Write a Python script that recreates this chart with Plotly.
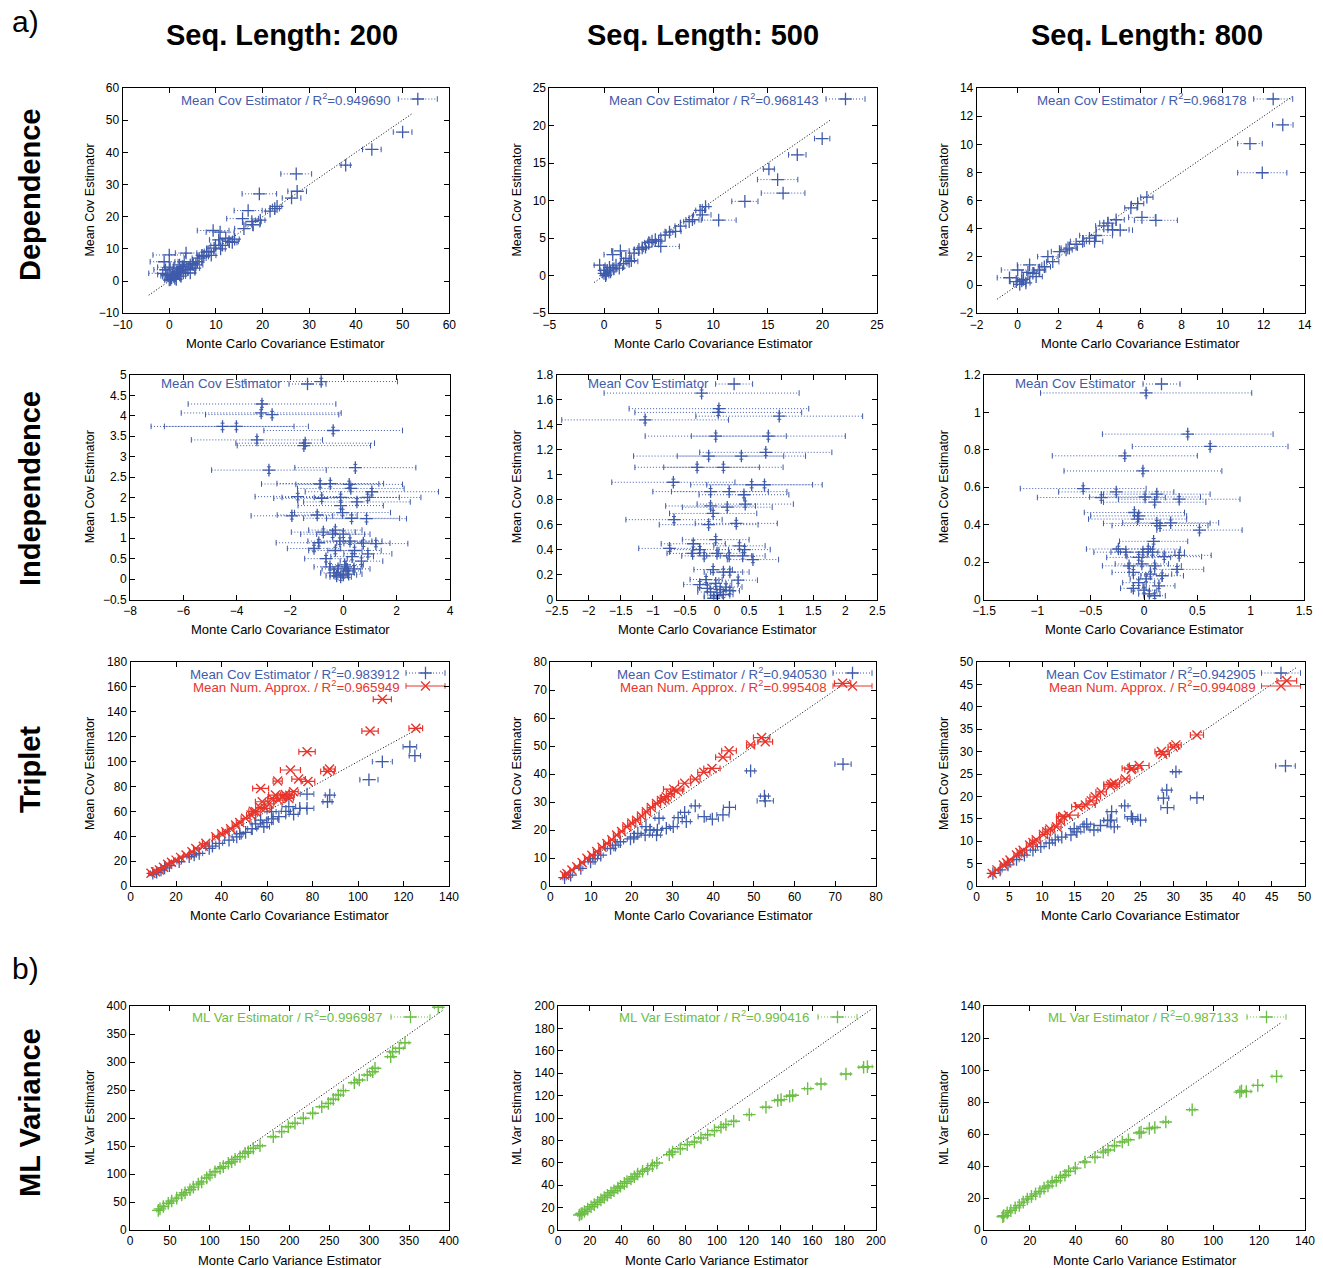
import plotly.graph_objects as go

W, H = 1323, 1268
FONT = "Liberation Sans, Arial, Helvetica, sans-serif"
BLUE = "#3F5BAB"
RED = "#E8352C"
GREEN = "#6CBE45"
DOT = "1px,2px"

# ---------------- data ----------------
# Dependence, seq length 200
d200_x = [50.0, 43.4, 37.8, 27.2, 27.4, 26.2, 19.3, 16.9, 22.6, 21.6, 23.1, 15.7, 17.7, 19.5, 17.9, 16.0, 9.4, 10.9, 12.8, 10.6,
          11.4, 9.6, 12.1, 9.9, 8.5, 7.4, 3.6, 0.0, -1.1, -1.4, 0.0, 2.8, 5.0, 6.4, 0.7, 0.0, -0.3, 1.8, 3.6, 5.7,
          0.5, 1.0, 1.5, 2.0, 2.5, 1.2, 0.3, -0.5, 3.0, 4.0, 4.5, 3.2, 2.2, 1.0, -0.8, 6.0, 7.0, 8.0, 13.5, 14.0,
          11.0, 9.0, 2.5, 1.5, 4.5, 5.5]
d200_y = [46.3, 40.9, 36.0, 33.3, 27.9, 25.8, 27.1, 21.9, 22.5, 21.7, 23.2, 19.4, 18.5, 18.9, 17.5, 16.3, 15.7, 15.2, 12.3, 12.8,
          11.1, 10.2, 13.3, 11.1, 9.2, 7.6, 8.7, 8.1, 6.0, 2.4, 4.3, 4.5, 5.5, 7.1, 1.9, 0.3, 1.6, 2.9, 4.0, 5.0,
          1.0, 1.5, 2.2, 2.8, 3.5, 0.8, 0.5, 2.0, 2.5, 3.5, 5.0, 6.0, 5.0, 4.0, 3.5, 6.0, 8.0, 9.0, 12.0, 13.0,
          10.0, 8.0, 1.5, 0.5, 2.5, 4.0]
d200_e = [2.0, 2.0, 1.0, 3.3, 2.0, 2.0, 3.7, 3.0, 1.0, 1.0, 1.0, 3.4, 2.0, 1.0, 1.5, 2.0, 3.4, 3.0, 2.0, 2.0,
          1.5, 1.5, 1.5, 1.0, 1.0, 1.0, 2.3, 3.5, 3.0, 3.0, 2.5, 2.0, 2.0, 1.5, 1.5, 1.0, 1.5, 1.5, 1.5, 1.5,
          1.0, 1.0, 1.0, 1.0, 1.0, 1.0, 1.0, 2.0, 1.0, 1.5, 1.5, 2.0, 2.0, 2.0, 2.5, 1.0, 1.0, 1.0, 1.0, 1.0,
          1.0, 1.0, 1.0, 1.0, 1.0, 1.0]

# Dependence, seq length 500
d500_x = [19.98, 17.7, 15.1, 15.9, 16.4, 12.9, 10.5, 9.3, 8.8, 9.0, 8.1, 7.8, 7.0, 6.55, 5.2, 4.7, 4.1, 3.5, 2.3, 1.5,
          0.8, -0.4, 0.0, 0.3, 1.1, 2.0, 2.75, 3.2, 4.4, 5.6, 0.5, 0.0, 0.15, 0.6, 1.4, 1.8, 2.5, 3.8, 5.0, 6.0, 0.2, 0.9]
d500_y = [18.26, 16.1, 14.2, 12.8, 11.0, 9.9, 7.4, 9.2, 8.7, 8.1, 7.45, 7.2, 6.6, 5.9, 3.9, 4.8, 4.4, 3.7, 1.9, 3.3,
          2.8, 1.4, 0.3, 0.7, 1.4, 2.3, 3.0, 3.5, 4.6, 5.4, 1.1, 0.7, 0.0, 0.5, 1.0, 1.6, 2.0, 3.8, 4.6, 5.8, 0.2, 0.9]
d500_e = [0.7, 0.8, 0.5, 1.85, 2.0, 1.2, 1.6, 0.3, 0.4, 0.8, 0.6, 0.5, 0.5, 0.5, 1.7, 0.5, 0.4, 0.4, 0.8, 0.8,
          0.8, 0.5, 0.3, 0.3, 0.3, 0.4, 0.4, 0.4, 0.4, 0.4, 0.3, 0.3, 0.3, 0.3, 0.3, 0.3, 0.3, 0.3, 0.3, 0.3, 0.2, 0.3]

# Dependence, seq length 800
d800_x = [12.93, 11.33, 11.93, 6.3, 5.85, 5.52, 6.06, 6.74, 4.8, 4.4, 4.63, 5.0, 4.2, 3.82, 3.17, 2.85, 2.52, 2.04, 1.47, 0.58,
          0.0, -0.4, -0.07, 0.1, 0.28, 0.74, 1.07, 1.71, 2.36, 3.5, 3.75, 0.4, 0.2, 0.9, 1.3, 0.5]
d800_y = [11.38, 10.05, 7.98, 6.24, 5.79, 5.48, 4.81, 4.6, 4.64, 4.4, 3.93, 3.9, 4.2, 3.52, 3.1, 2.9, 2.62, 2.38, 2.02, 1.43,
          1.07, 0.52, 0.24, 0.05, 0.4, 0.84, 1.07, 1.66, 2.5, 3.33, 3.1, 0.15, 0.3, 0.6, 1.3, 0.9]
d800_e = [0.5, 0.6, 1.2, 0.3, 0.3, 0.3, 0.65, 1.05, 0.4, 0.4, 0.8, 0.6, 0.4, 0.8, 0.6, 0.4, 0.4, 0.4, 0.5, 0.6,
          0.8, 0.6, 0.3, 0.3, 0.3, 0.3, 0.3, 0.3, 0.3, 0.3, 0.4, 0.2, 0.2, 0.3, 0.3, 0.3]

# Independence, seq length 200
i200_x = [-0.83, -3.05, -3.08, -2.67, -4.53, -4.01, -0.38, -3.24, -1.43, -1.48, -2.79, 0.45, -0.87, -0.49, 0.22, 0.28, 1.07, -1.71, -0.81, -0.1,
          0.51, 0.91, -0.1, -0.03, -1.93, -0.98, 0.31, 0.87, -0.75, -0.4, -0.3, 0.0, -0.92, -0.13, 0.25, 0.75, 1.22, -1.1, -0.3, 0.42,
          0.92, -0.65, 0.33, 0.68, -0.5, -0.2, 0.1, 0.4, -0.35, 0.0, 0.2, -0.1, 0.15, -0.25, 0.05]
i200_y = [4.84, 4.29, 4.07, 4.03, 3.74, 3.74, 3.64, 3.41, 3.33, 3.27, 2.67, 2.73, 2.33, 2.34, 2.32, 2.22, 2.14, 2.02, 1.98, 2.0,
          1.89, 2.0, 1.8, 1.63, 1.55, 1.57, 1.49, 1.48, 1.15, 1.1, 1.2, 1.1, 0.89, 0.93, 0.93, 0.88, 0.87, 0.75, 0.7, 0.7,
          0.62, 0.5, 0.55, 0.44, 0.3, 0.25, 0.3, 0.25, 0.15, 0.1, 0.12, 0.05, 0.2, 0.08, 0.35]
i200_e = [2.86, 2.77, 3.0, 2.5, 2.68, 2.7, 2.6, 2.46, 2.6, 2.5, 2.15, 2.27, 2.2, 2.0, 2.0, 2.0, 2.5, 1.6, 1.8, 2.2,
          2.0, 2.0, 1.6, 1.8, 1.53, 1.5, 1.8, 1.5, 1.2, 1.2, 1.0, 1.0, 1.6, 1.2, 1.2, 1.0, 1.2, 1.0, 1.0, 1.0,
          0.9, 0.8, 0.8, 0.8, 0.6, 0.6, 0.6, 0.6, 0.5, 0.5, 0.5, 0.4, 0.5, 0.4, 0.7]

# Independence, seq length 500
i500_x = [-0.24, 0.03, 0.02, 0.97, -1.12, -0.02, 0.8, 0.76, -0.13, 0.38, -0.31, 0.1, -0.68, 0.54, 0.74, -0.1, 0.19, 0.42, 0.44, -0.1,
          0.16, -0.06, -0.67, -0.13, 0.3, -0.02, -0.37, -0.74, -0.27, 0.35, 0.43, -0.38, 0.0, -0.2, 0.56, 0.19, 0.4, -0.06, 0.2, 0.1,
          0.33, -0.27, -0.17, -0.02, 0.14, -0.1, 0.05, 0.0, -0.05, 0.1, 0.2, -0.15]
i500_y = [1.655, 1.53, 1.5, 1.47, 1.44, 1.31, 1.31, 1.18, 1.15, 1.15, 1.06, 1.06, 0.94, 0.92, 0.92, 0.865, 0.865, 0.84, 0.765, 0.75,
          0.74, 0.69, 0.64, 0.6, 0.61, 0.48, 0.447, 0.41, 0.4, 0.43, 0.4, 0.37, 0.37, 0.35, 0.32, 0.35, 0.35, 0.24, 0.22, 0.22,
          0.155, 0.12, 0.16, 0.13, 0.1, 0.06, 0.08, 0.03, 0.01, 0.04, 0.07, 0.09]
i500_e = [1.52, 1.4, 1.3, 1.3, 1.3, 1.1, 1.2, 1.03, 1.17, 1.0, 0.97, 0.93, 0.96, 0.95, 0.9, 0.9, 0.9, 0.7, 0.75, 0.7,
          0.7, 0.68, 0.75, 0.77, 0.64, 0.52, 0.5, 0.48, 0.45, 0.4, 0.4, 0.4, 0.4, 0.35, 0.4, 0.35, 0.35, 0.3, 0.3, 0.3,
          0.3, 0.25, 0.25, 0.25, 0.25, 0.2, 0.2, 0.2, 0.15, 0.15, 0.15, 0.15]

# Independence, seq length 800
i800_x = [0.02, 0.41, 0.62, -0.18, -0.01, -0.57, -0.26, -0.4, 0.01, 0.12, 0.1, 0.33, -0.09, -0.05, -0.06, 0.12, 0.25, 0.15, 0.52, 0.09,
          -0.24, 0.04, -0.17, -0.01, 0.08, 0.19, 0.33, -0.05, -0.14, -0.02, 0.1, 0.31, -0.1, 0.06, 0.17, 0.14, -0.05, 0.0, 0.05, -0.1,
          0.1, 0.02]
i800_y = [1.104, 0.884, 0.818, 0.768, 0.687, 0.593, 0.575, 0.545, 0.548, 0.563, 0.52, 0.536, 0.465, 0.447, 0.43, 0.407, 0.41, 0.395, 0.371, 0.311,
          0.27, 0.27, 0.253, 0.253, 0.253, 0.229, 0.236, 0.225, 0.18, 0.19, 0.18, 0.161, 0.145, 0.136, 0.127, 0.073, 0.09, 0.05, 0.03, 0.06,
          0.02, 0.11]
i800_e = [0.99, 0.8, 0.73, 0.68, 0.74, 0.59, 0.54, 0.6, 0.52, 0.5, 0.48, 0.57, 0.47, 0.45, 0.46, 0.5, 0.45, 0.45, 0.4, 0.32,
          0.3, 0.3, 0.3, 0.3, 0.3, 0.35, 0.3, 0.3, 0.25, 0.25, 0.25, 0.25, 0.2, 0.2, 0.2, 0.15, 0.15, 0.12, 0.1, 0.12,
          0.1, 0.15]

# Triplet, seq length 200
t200c_x = [122.8, 125.0, 110.7, 104.8, 87.6, 86.6, 77.6, 69.6, 74.4, 77.6, 71.7, 65.2, 62.7, 57.2, 58.6, 50.6, 46.7, 43.3, 39.0, 34.6,
           30.2, 25.8, 21.4, 17.1, 13.4, 9.8, 62.0, 68.3, 53.5, 48.0, 55.0, 60.0, 36.0, 28.0, 15.0, 11.5]
t200c_y = [111.9, 104.7, 99.9, 85.4, 73.1, 67.7, 73.9, 63.8, 62.4, 62.4, 57.6, 55.7, 54.0, 53.0, 47.6, 43.1, 39.5, 36.9, 34.3, 30.2,
           26.2, 23.5, 19.5, 16.3, 12.8, 10.2, 59.7, 60.0, 46.0, 42.0, 50.0, 51.0, 32.0, 25.0, 14.5, 11.0]
t200c_e = [3.0, 2.5, 4.4, 4.0, 2.0, 2.0, 3.0, 3.0, 3.0, 3.0, 2.0, 3.0, 2.0, 2.5, 2.5, 2.5, 2.0, 2.0, 1.5, 1.5,
           1.5, 1.0, 1.0, 1.0, 1.0, 1.0, 2.0, 2.0, 2.0, 1.5, 2.0, 2.0, 1.5, 1.0, 1.0, 1.0]
t200n_x = [110.7, 125.4, 105.3, 77.6, 70.3, 87.5, 86.6, 64.7, 73.9, 78.0, 57.2, 57.9, 63.7, 62.3, 66.7, 69.6, 71.7, 68.0, 59.3, 55.0,
           50.6, 46.2, 41.9, 37.5, 33.1, 28.7, 24.4, 20.0, 16.3, 12.7, 9.0, 40.0, 44.0, 48.0, 53.0, 57.0, 61.0, 65.0, 70.0, 54.0,
           32.0, 27.0, 22.0, 18.0, 14.5, 11.0]
t200n_y = [150.0, 126.7, 124.5, 107.9, 93.2, 94.0, 92.0, 84.3, 85.9, 84.0, 78.4, 67.7, 73.1, 70.3, 71.5, 70.3, 75.8, 73.5, 62.4, 59.7,
           54.4, 49.0, 43.6, 39.6, 34.3, 30.2, 24.9, 20.8, 17.4, 12.8, 10.2, 42.0, 46.0, 51.0, 57.0, 63.0, 66.0, 69.0, 73.0, 60.0,
           32.0, 27.5, 23.0, 19.0, 15.0, 11.5]
t200n_e = [4.0, 3.0, 3.6, 3.6, 4.4, 2.5, 3.0, 2.0, 3.0, 3.0, 3.5, 3.0, 3.0, 2.0, 2.0, 2.0, 2.0, 2.0, 2.0, 2.0,
           2.0, 1.5, 1.5, 1.5, 1.5, 1.0, 1.0, 1.0, 1.0, 1.0, 1.0, 1.5, 1.5, 1.5, 2.0, 2.0, 2.0, 2.0, 2.0, 2.0,
           1.0, 1.0, 1.0, 1.0, 1.0, 1.0]

# Triplet, seq length 500
t500c_x = [71.9, 49.2, 52.6, 52.8, 44.0, 35.6, 42.4, 39.8, 37.8, 33.0, 33.4, 31.4, 26.7, 30.2, 28.5, 26.3, 23.5, 26.1, 23.3, 21.5,
           19.7, 17.2, 14.8, 12.4, 9.9, 7.5, 5.0, 24.5, 3.5, 11.0, 16.0, 20.5]
t500c_y = [43.5, 41.1, 32.1, 30.4, 28.1, 28.6, 25.4, 23.9, 24.8, 26.3, 23.0, 24.4, 24.2, 21.2, 20.6, 20.0, 21.2, 18.2, 18.2, 18.8,
           16.8, 15.8, 13.4, 11.0, 8.6, 6.3, 3.9, 20.0, 3.0, 9.8, 14.6, 17.5]
t500c_e = [2.0, 1.0, 1.0, 2.0, 1.5, 1.0, 1.5, 1.5, 1.5, 1.0, 1.0, 1.0, 1.0, 1.0, 1.0, 1.0, 1.0, 1.0, 1.0, 0.8,
           0.8, 0.8, 0.8, 0.6, 0.6, 0.5, 0.5, 1.0, 0.4, 0.6, 0.7, 0.8]
t500n_x = [71.8, 51.9, 52.8, 49.2, 43.9, 42.4, 39.7, 37.7, 35.6, 33.0, 30.3, 31.0, 28.5, 26.1, 23.6, 21.2, 18.8, 16.3, 13.9, 11.4,
           9.0, 6.5, 4.1, 24.8, 22.4, 20.0, 17.5, 15.1, 12.7, 10.2, 7.8, 5.3, 27.3, 28.0, 29.5, 3.5]
t500n_y = [72.4, 53.0, 51.5, 50.4, 48.3, 46.0, 42.0, 40.6, 38.2, 36.7, 34.6, 34.0, 31.9, 29.5, 26.5, 23.5, 21.2, 18.2, 15.2, 12.3,
           9.9, 6.9, 4.5, 28.0, 25.0, 22.5, 19.5, 16.5, 13.8, 11.0, 8.4, 5.7, 30.5, 31.0, 33.0, 3.8]
t500n_e = [2.0, 2.0, 1.8, 1.0, 1.8, 1.8, 2.0, 1.5, 1.2, 1.5, 2.5, 1.5, 1.2, 1.0, 1.0, 1.0, 1.0, 0.8, 0.8, 0.8,
           0.6, 0.6, 0.5, 1.0, 1.0, 1.0, 0.8, 0.8, 0.8, 0.6, 0.6, 0.5, 1.0, 1.0, 1.0, 0.5]

# Triplet, seq length 800
t800c_x = [47.1, 30.4, 29.0, 28.5, 33.6, 29.1, 22.6, 20.6, 20.4, 21.0, 23.6, 23.8, 25.0, 20.0, 18.9, 17.9, 16.8, 16.4, 15.3, 14.9,
           14.4, 13.0, 12.0, 11.1, 9.8, 8.6, 7.3, 6.1, 4.8, 3.6, 2.5]
t800c_y = [26.8, 25.5, 21.4, 19.6, 19.7, 17.5, 17.9, 16.6, 14.7, 13.2, 15.5, 15.0, 14.7, 14.6, 13.5, 12.5, 13.8, 13.2, 12.1, 12.8,
           11.4, 10.9, 10.3, 9.6, 8.8, 8.0, 6.9, 5.9, 4.7, 3.6, 2.8]
t800c_e = [1.5, 0.5, 0.7, 0.8, 1.0, 1.0, 0.5, 0.7, 1.0, 0.5, 1.0, 0.8, 0.8, 0.6, 1.0, 0.6, 0.6, 0.6, 0.6, 0.6,
           0.8, 0.6, 0.5, 0.5, 0.5, 0.4, 0.4, 0.4, 0.3, 0.3, 0.3]
t800n_x = [47.3, 33.6, 30.4, 30.0, 28.2, 28.4, 24.8, 23.7, 23.6, 22.7, 20.6, 20.4, 18.1, 16.6, 15.5, 14.0, 13.2, 12.2, 11.2, 10.2,
           9.1, 8.1, 7.1, 6.1, 5.1, 4.1, 3.1, 2.4, 21.0, 19.0, 17.5, 12.8, 10.7, 8.6, 6.6, 4.6]
t800n_y = [45.8, 33.7, 31.5, 31.0, 30.0, 29.4, 26.9, 26.3, 26.0, 23.9, 22.7, 22.3, 19.9, 18.1, 17.7, 15.8, 15.5, 13.2, 12.7, 11.5,
           10.3, 9.15, 8.0, 6.9, 5.8, 4.7, 3.6, 2.8, 23.0, 21.0, 19.0, 14.5, 12.1, 9.7, 7.5, 5.2]
t800n_e = [1.5, 1.0, 0.8, 0.8, 1.0, 1.0, 1.5, 1.5, 1.0, 0.7, 1.2, 1.0, 0.8, 1.5, 1.0, 1.5, 1.0, 0.7, 0.7, 0.6,
           0.6, 0.5, 0.5, 0.4, 0.4, 0.4, 0.3, 0.3, 0.8, 0.8, 0.8, 0.6, 0.6, 0.5, 0.4, 0.4]

# ML variance, seq length 200
v200_x = [386.6, 344.8, 337.7, 329.4, 326.9, 307.2, 304.3, 297.6, 287.5, 281.3, 267.5, 261.2, 254.9, 248.7, 240.4, 229.1, 217.3, 206.9, 198.5, 190.2,
          179.7, 163.0, 154.6, 144.2, 131.7, 123.3, 112.9, 100.3, 89.9, 79.4, 69.0, 58.6, 48.0, 37.6, 35.5, 41.8, 52.3, 64.8, 75.2, 85.6,
          96.2, 106.6, 117.0, 127.5, 137.9, 148.3]
v200_y = [397.7, 334.5, 324.5, 318.4, 309.5, 288.8, 282.7, 276.8, 267.9, 263.0, 248.8, 241.1, 233.4, 226.2, 220.2, 208.4, 199.5, 190.5, 184.5, 175.6,
          166.6, 150.5, 145.9, 136.9, 126.2, 119.1, 110.2, 98.2, 86.0, 76.5, 66.5, 57.0, 47.7, 37.8, 35.0, 42.0, 51.8, 62.5, 72.0, 82.0,
          93.0, 104.1, 113.1, 122.0, 130.9, 139.8]
v200_e = [5, 5, 5, 4, 4, 4, 4, 4, 4, 4, 3, 3, 3, 3, 3, 3, 3, 3, 3, 3,
          3, 3, 3, 3, 2.5, 2.5, 2.5, 2.5, 2, 2, 2, 2, 2, 2, 2, 2, 2, 2, 2, 2,
          2.5, 2.5, 2.5, 2.5, 3, 3]

# ML variance, seq length 500
v500_x = [192.2, 194.6, 181.1, 165.4, 157.0, 147.6, 145.7, 140.3, 138.2, 130.8, 120.3, 110.5, 105.6, 102.5, 98.4, 94.1, 89.9, 85.8, 81.3, 76.9,
          72.1, 70.0, 62.2, 56.4, 50.1, 45.9, 41.7, 37.6, 33.3, 29.1, 24.9, 20.8, 16.6, 13.4, 59.4, 53.2, 48.0, 43.4, 39.3, 35.2,
          31.1, 27.0, 22.8, 18.7, 15.1, 14.5]
v500_y = [145.3, 145.9, 139.3, 130.4, 126.2, 120.3, 119.4, 116.4, 115.6, 109.6, 103.0, 97.1, 94.2, 91.7, 88.7, 85.1, 82.1, 78.6, 76.2, 72.6,
          69.7, 67.3, 59.8, 54.5, 50.0, 45.5, 41.6, 37.5, 33.2, 29.0, 24.8, 20.7, 16.5, 13.4, 57.5, 52.5, 47.6, 43.2, 39.1, 35.0,
          31.0, 26.9, 22.7, 18.6, 15.0, 14.3]
v500_e = [3, 3, 3, 2.5, 2, 2, 2, 2, 2, 2, 1.5, 1.5, 1.5, 1.5, 1.5, 1.5, 1.5, 1.5, 1.5, 1.5,
          1.5, 1.5, 1.5, 1.2, 1.2, 1.2, 1.2, 1.2, 1.2, 1, 1, 1, 1, 1, 1.2, 1.2, 1.2, 1.2, 1.2, 1.2,
          1, 1, 1, 1, 1, 1]

# ML variance, seq length 800
v800_x = [127.6, 119.4, 114.4, 112.3, 111.6, 90.8, 79.3, 74.5, 72.1, 68.5, 67.7, 63.0, 60.3, 56.9, 54.1, 52.0, 48.4, 44.0, 39.8, 36.9,
          33.3, 29.7, 26.2, 22.5, 18.9, 15.4, 11.7, 8.6, 35.3, 31.5, 27.9, 24.4, 20.7, 17.1, 13.6, 10.1, 8.2]
v800_y = [96.0, 90.4, 86.6, 87.0, 86.2, 75.2, 67.5, 64.1, 63.4, 61.2, 60.6, 56.4, 55.0, 52.7, 50.0, 48.7, 45.5, 42.5, 38.7, 36.7,
          32.9, 29.9, 26.2, 22.6, 19.4, 15.4, 12.1, 9.0, 34.2, 30.8, 27.5, 24.1, 21.0, 17.4, 13.8, 10.7, 8.3]
v800_e = [2, 2, 2, 1.5, 1.5, 1.2, 1.2, 1, 1, 1, 1, 1, 1, 1, 1, 1, 1, 0.8, 0.8, 0.8,
          0.8, 0.8, 0.8, 0.6, 0.6, 0.6, 0.6, 0.6, 0.8, 0.8, 0.8, 0.6, 0.6, 0.6, 0.6, 0.6, 0.6]

col_titles = ["Seq. Length: 200", "Seq. Length: 500", "Seq. Length: 800"]
row_titles = ["Dependence", "Independence", "Triplet", "ML Variance"]
r2_dep = ["0.949690", "0.968143", "0.968178"]
r2_trip_cov = ["0.983912", "0.940530", "0.942905"]
r2_trip_num = ["0.965949", "0.995408", "0.994089"]
r2_ml = ["0.996987", "0.990416", "0.987133"]

# ---------------- geometry (pixels) ----------------
XPX = [[(122.6, 449.3), (549.4, 877.0), (976.7, 1304.7)],
       [(130.0, 450.0), (556.6, 877.4), (984.0, 1304.0)],
       [(130.5, 449.0), (550.3, 876.0), (976.5, 1304.5)],
       [(130.0, 449.0), (558.0, 876.0), (984.0, 1305.0)]]
YPX = [(88.0, 313.2), (375.0, 599.5), (662.0, 886.0), (1006.0, 1230.0)]
# legend offsets per row: (text_right, sample_start, sample_end, first_line_dy)
LEG = {0: (56, 51, 12, 11), 1: (154, 159, 196, 9), 2: (47, 43, 4, 11), 3: (65, 58, 19, 11)}

panels = [
    dict(r=0, c=0, xr=[-10, 60], yr=[-10, 60], dx=10, dy=10, series=[("cov", d200_x, d200_y, d200_e)],
         labels=["Mean Cov Estimator / R<sup>2</sup>=" + r2_dep[0]], diag=True, yerr=None),
    dict(r=0, c=1, xr=[-5, 25], yr=[-5, 25], dx=5, dy=5, series=[("cov", d500_x, d500_y, d500_e)],
         labels=["Mean Cov Estimator / R<sup>2</sup>=" + r2_dep[1]], diag=True, yerr=None),
    dict(r=0, c=2, xr=[-2, 14], yr=[-2, 14], dx=2, dy=2, series=[("cov", d800_x, d800_y, d800_e)],
         labels=["Mean Cov Estimator / R<sup>2</sup>=" + r2_dep[2]], diag=True, yerr=None),
    dict(r=1, c=0, xr=[-8, 4], yr=[-0.5, 5], dx=2, dy=0.5, series=[("cov", i200_x, i200_y, i200_e)],
         labels=["Mean Cov Estimator"], diag=False, yerr=0.08),
    dict(r=1, c=1, xr=[-2.5, 2.5], yr=[0, 1.8], dx=0.5, dy=0.2, series=[("cov", i500_x, i500_y, i500_e)],
         labels=["Mean Cov Estimator"], diag=False, yerr=0.025),
    dict(r=1, c=2, xr=[-1.5, 1.5], yr=[0, 1.2], dx=0.5, dy=0.2, series=[("cov", i800_x, i800_y, i800_e)],
         labels=["Mean Cov Estimator"], diag=False, yerr=0.015),
    dict(r=2, c=0, xr=[0, 140], yr=[0, 180], dx=20, dy=20,
         series=[("cov", t200c_x, t200c_y, t200c_e), ("num", t200n_x, t200n_y, t200n_e)],
         labels=["Mean Cov Estimator / R<sup>2</sup>=" + r2_trip_cov[0], "Mean Num. Approx. / R<sup>2</sup>=" + r2_trip_num[0]],
         diag=True, yerr=None),
    dict(r=2, c=1, xr=[0, 80], yr=[0, 80], dx=10, dy=10,
         series=[("cov", t500c_x, t500c_y, t500c_e), ("num", t500n_x, t500n_y, t500n_e)],
         labels=["Mean Cov Estimator / R<sup>2</sup>=" + r2_trip_cov[1], "Mean Num. Approx. / R<sup>2</sup>=" + r2_trip_num[1]],
         diag=True, yerr=None),
    dict(r=2, c=2, xr=[0, 50], yr=[0, 50], dx=5, dy=5,
         series=[("cov", t800c_x, t800c_y, t800c_e), ("num", t800n_x, t800n_y, t800n_e)],
         labels=["Mean Cov Estimator / R<sup>2</sup>=" + r2_trip_cov[2], "Mean Num. Approx. / R<sup>2</sup>=" + r2_trip_num[2]],
         diag=True, yerr=None),
    dict(r=3, c=0, xr=[0, 400], yr=[0, 400], dx=50, dy=50, series=[("ml", v200_x, v200_y, v200_e)],
         labels=["ML Var Estimator / R<sup>2</sup>=" + r2_ml[0]], diag=True, yerr=None),
    dict(r=3, c=1, xr=[0, 200], yr=[0, 200], dx=20, dy=20, series=[("ml", v500_x, v500_y, v500_e)],
         labels=["ML Var Estimator / R<sup>2</sup>=" + r2_ml[1]], diag=True, yerr=None),
    dict(r=3, c=2, xr=[0, 140], yr=[0, 140], dx=20, dy=20, series=[("ml", v800_x, v800_y, v800_e)],
         labels=["ML Var Estimator / R<sup>2</sup>=" + r2_ml[2]], diag=True, yerr=None),
]

COLORS = {"cov": BLUE, "num": RED, "ml": GREEN}

fig = go.Figure()
annotations = []
layout_axes = {}


def add_series(kind, xs, ys, es, xn, yn, yerr):
    col = COLORS[kind]
    if kind == "cov":
        bx, by = [], []
        for x, y, e in zip(xs, ys, es):
            bx += [x - e, x + e, None]
            by += [y, y, None]
        fig.add_trace(go.Scatter(x=bx, y=by, mode="lines+markers", xaxis=xn, yaxis=yn,
                                 line=dict(color=col, width=1, dash=DOT),
                                 marker=dict(symbol="line-ns-open", size=4, color=col, line=dict(color=col, width=1)),
                                 hoverinfo="skip", showlegend=False))
        kw = {}
        if yerr:
            kw["error_y"] = dict(type="constant", value=yerr, color=col, thickness=1, width=2)
        fig.add_trace(go.Scatter(x=xs, y=ys, mode="markers", xaxis=xn, yaxis=yn,
                                 marker=dict(symbol="cross-thin-open", size=9, color=col, line=dict(color=col, width=1.3)),
                                 showlegend=False, **kw))
    elif kind == "num":
        fig.add_trace(go.Scatter(x=xs, y=ys, mode="markers", xaxis=xn, yaxis=yn,
                                 error_x=dict(type="data", array=es, color=col, thickness=1.2, width=3),
                                 marker=dict(symbol="x-thin-open", size=9, color=col, line=dict(color=col, width=1.4)),
                                 showlegend=False))
    else:
        fig.add_trace(go.Scatter(x=xs, y=ys, mode="markers", xaxis=xn, yaxis=yn,
                                 error_x=dict(type="data", array=es, color=col, thickness=1, width=2),
                                 marker=dict(symbol="cross-thin-open", size=9, color=col, line=dict(color=col, width=1.4)),
                                 showlegend=False))


def add_legend_sample(kind, xn, yn, xr, yr, f0, f1, fy):
    col = COLORS[kind]
    xa = xr[0] + f0 * (xr[1] - xr[0])
    xb = xr[0] + f1 * (xr[1] - xr[0])
    yv = yr[0] + fy * (yr[1] - yr[0])
    dash = DOT if kind in ("cov", "ml") else "solid"
    fig.add_trace(go.Scatter(x=[xa, xb], y=[yv, yv], mode="lines+markers", xaxis=xn, yaxis=yn,
                             line=dict(color=col, width=1, dash=dash),
                             marker=dict(symbol="line-ns-open", size=4, color=col, line=dict(color=col, width=1)),
                             hoverinfo="skip", showlegend=False, cliponaxis=False))
    sym = "x-thin-open" if kind == "num" else "cross-thin-open"
    fig.add_trace(go.Scatter(x=[(xa + xb) / 2], y=[yv], mode="markers", xaxis=xn, yaxis=yn,
                             marker=dict(symbol=sym, size=9, color=col, line=dict(color=col, width=1.3)),
                             hoverinfo="skip", showlegend=False, cliponaxis=False))


for i, p in enumerate(panels):
    idx = i + 1
    xn = "x" if idx == 1 else f"x{idx}"
    yn = "y" if idx == 1 else f"y{idx}"
    xk = "xaxis" if idx == 1 else f"xaxis{idx}"
    yk = "yaxis" if idx == 1 else f"yaxis{idx}"
    l, r = XPX[p["r"]][p["c"]]
    t, b = YPX[p["r"]]
    wpx, hpx = r - l, b - t
    common = dict(showline=True, linecolor="black", linewidth=1, mirror="ticks", ticks="inside", ticklen=5,
                  tickcolor="black", tickwidth=1, showgrid=False, zeroline=False, tick0=0, automargin=False,
                  tickfont=dict(family=FONT, size=12, color="black"))
    layout_axes[xk] = dict(domain=[l / W, r / W], range=p["xr"], dtick=p["dx"], anchor=yn, **common)
    layout_axes[yk] = dict(domain=[1 - b / H, 1 - t / H], range=p["yr"], dtick=p["dy"], anchor=xn, **common)

    if p["diag"]:
        lo = min(min(x - e for x, e in zip(s[1], s[3])) for s in p["series"])
        hi = max(max(x + e for x, e in zip(s[1], s[3])) for s in p["series"])
        fig.add_trace(go.Scatter(x=[lo, hi], y=[lo, hi], mode="lines", xaxis=xn, yaxis=yn,
                                 line=dict(color="black", width=1, dash=DOT), hoverinfo="skip", showlegend=False))
    for kind, xs, ys, es in p["series"]:
        add_series(kind, xs, ys, es, xn, yn, p["yerr"])

    # legend
    tr, s0, s1, dy0 = LEG[p["r"]]
    for k, (lab, s) in enumerate(zip(p["labels"], p["series"])):
        fy = 1 - (dy0 + 13 * k) / hpx
        if p["r"] == 1:
            ftx, f0, f1 = tr / wpx, s0 / wpx, s1 / wpx
        else:
            ftx, f0, f1 = 1 - tr / wpx, 1 - s0 / wpx, 1 - s1 / wpx
        annotations.append(dict(text=lab, xref=f"{xn} domain", yref=f"{yn} domain", x=ftx, y=fy,
                                xanchor="right", yanchor="middle", showarrow=False,
                                font=dict(family=FONT, size=13.3, color=COLORS[s[0]])))
        add_legend_sample(s[0], xn, yn, p["xr"], p["yr"], f0, f1, fy)

    # axis titles
    xt = "Monte Carlo Variance Estimator" if p["r"] == 3 else "Monte Carlo Covariance Estimator"
    yt = "ML Var Estimator" if p["r"] == 3 else "Mean Cov Estimator"
    annotations.append(dict(text=xt, xref="paper", yref="paper", x=(l + r) / 2 / W, y=1 - (b + 30) / H,
                            xanchor="center", yanchor="middle", showarrow=False,
                            font=dict(family=FONT, size=13, color="black")))
    annotations.append(dict(text=yt, xref="paper", yref="paper", x=[90, 517, 944][p["c"]] / W, y=1 - (t + b) / 2 / H,
                            xanchor="center", yanchor="middle", showarrow=False, textangle=-90,
                            font=dict(family=FONT, size=12.5, color="black")))

# column titles
for c, txt in enumerate(col_titles):
    annotations.append(dict(text=f"<b>{txt}</b>", xref="paper", yref="paper", x=[282, 703, 1147][c] / W, y=1 - 35 / H,
                            xanchor="center", yanchor="middle", showarrow=False,
                            font=dict(family=FONT, size=29, color="black")))
# row titles
for rr, txt in enumerate(row_titles):
    annotations.append(dict(text=f"<b>{txt}</b>", xref="paper", yref="paper", x=30 / W, y=1 - [195, 489, 770, 1113][rr] / H,
                            xanchor="center", yanchor="middle", showarrow=False, textangle=-90,
                            font=dict(family=FONT, size=29, color="black")))
annotations.append(dict(text="a)", xref="paper", yref="paper", x=10 / W, y=1 - 21 / H, xanchor="left", yanchor="middle",
                        showarrow=False, font=dict(family=FONT, size=30, color="black")))
annotations.append(dict(text="b)", xref="paper", yref="paper", x=10 / W, y=1 - 968 / H, xanchor="left", yanchor="middle",
                        showarrow=False, font=dict(family=FONT, size=30, color="black")))

fig.update_layout(width=W, height=H, autosize=False,
                  margin=dict(l=0, r=0, t=0, b=0, pad=0, autoexpand=False),
                  paper_bgcolor="white", plot_bgcolor="white",
                  showlegend=False, annotations=annotations, **layout_axes)
fig.write_html("out.html", config=dict(responsive=False, displayModeBar=False),
               post_script="document.body.style.margin='0px';document.body.style.padding='0px';"
                           "document.documentElement.style.overflow='hidden';")
